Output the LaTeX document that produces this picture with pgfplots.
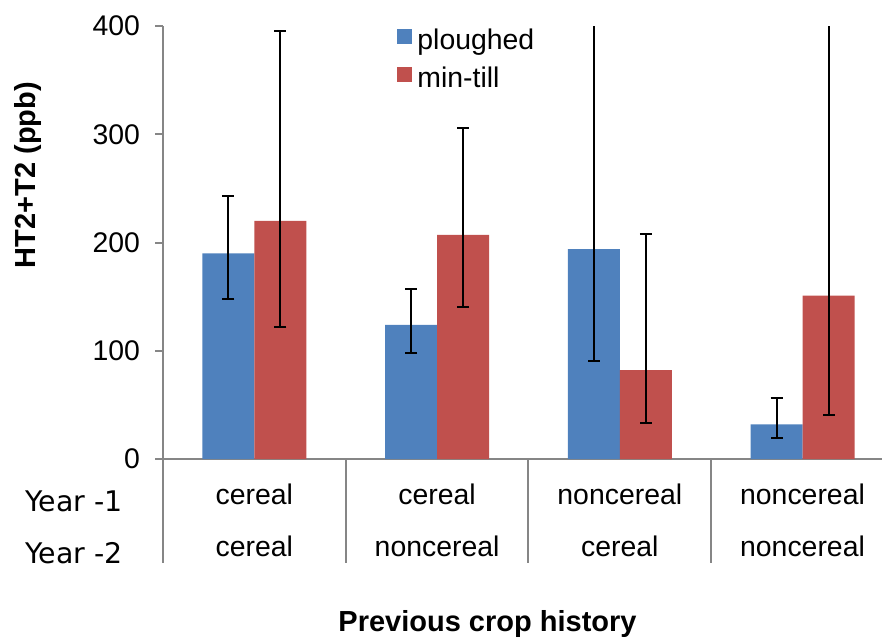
\documentclass[border=0pt]{standalone}
\usepackage{pgfplots}
\pgfplotsset{compat=1.18}
\usepackage{pgfplotstable}
\usepackage{fontspec}
\setmainfont{Liberation Sans}
\newfontfamily\yearfont{DejaVu Sans}
\definecolor{barblue}{HTML}{4F81BD}
\definecolor{barred}{HTML}{C0504D}
\definecolor{axgray}{HTML}{868686}

\pgfplotstableread{
x y ep em
0 190 53 42
1 124 33 26
2 194 256 103
3 32 24 13
}\ploughed
\pgfplotstableread{
x y ep em
0 220 175 98
1 207 99 67
2 82 126 49
3 151 299 110
}\mintill

\begin{document}
\begin{tikzpicture}
\path[use as bounding box] (0,0) rectangle (441pt,319.5pt);
\begin{axis}[
  at={(81.5pt,90pt)}, anchor=south west,
  scale only axis, width=359.5pt, height=216.5pt,
  xmin=-0.5, xmax=3.435, ymin=0, ymax=400,
  ybar=0pt, bar width=26pt,
  axis x line*=bottom, axis y line*=left,
  axis line style={axgray, line width=1pt},
  ytick={0,100,200,300,400},
  yticklabels={\textup{0},\textup{100},\textup{200},\textup{300},\textup{400}},
  tick align=outside,
  major tick length=4pt,
  ytick style={axgray, line width=1pt},
  xtick={0,1,2,3},
  xticklabels={cereal,cereal,noncereal,noncereal},
  xtick style={draw=none},
  extra x ticks={0,1,2,3},
  extra x tick labels={cereal,noncereal,cereal,noncereal},
  extra x tick style={xticklabel style={yshift=-26pt}},
  xticklabel style={anchor=base, yshift=-18.5pt},
  yticklabel style={anchor=east, xshift=-4pt},
  /pgf/number format/assume math mode=true,
  tick label style={font=\fontsize{14.2}{16}\selectfont},
  ylabel={HT2+T2 (ppb)},
  ylabel style={at={(axis description cs:-0.178,0.656)}, anchor=base, font=\bfseries\fontsize{14.5}{16}\selectfont},
  xlabel={Previous crop history},
  xlabel style={at={(axis description cs:0.4513,-0.398)}, anchor=base, font=\bfseries\fontsize{14.5}{16}\selectfont},
  legend cell align=left,
  legend style={draw=none, fill=none, inner sep=0pt, at={(axis description cs:0.3255,0.997)}, anchor=north west,
    font=\fontsize{14.2}{16}\selectfont, row sep=4pt, column sep=1.5pt,
    nodes={inner sep=1pt, text height=10pt, text depth=3pt}},
  after end axis/.code={
    \draw[axgray, line width=1pt] (axis cs:-0.5,0) -- ++(0,-52pt);
    \draw[axgray, line width=1pt] (axis cs:0.5,0) -- ++(0,-52pt);
    \draw[axgray, line width=1pt] (axis cs:1.5,0) -- ++(0,-52pt);
    \draw[axgray, line width=1pt] (axis cs:2.5,0) -- ++(0,-52pt);
    \node[anchor=base east, inner sep=0pt, font=\yearfont\fontsize{14.2}{16}\selectfont] at (axis description cs:-0.0556,-0.1201) {Year -1};
    \node[anchor=base east, inner sep=0pt, font=\yearfont\fontsize{14.2}{16}\selectfont] at (axis description cs:-0.0556,-0.2402) {Year -2};
  },
]
\addplot[fill=barblue, draw=none,
  legend image code/.code={\fill[barblue] (0pt,-0.75pt) rectangle (7.5pt,6.75pt);},
  error bars/.cd, y dir=both, y explicit,
  error bar style={black, line width=1pt},
  error mark options={black, line width=1pt, mark size=3pt, rotate=90}]
  table[x=x, y=y, y error plus=ep, y error minus=em] {\ploughed};
\addlegendentry{ploughed}
\addplot[fill=barred, draw=none,
  legend image code/.code={\fill[barred] (0pt,-0.75pt) rectangle (7.5pt,6.75pt);},
  error bars/.cd, y dir=both, y explicit,
  error bar style={black, line width=1pt},
  error mark options={black, line width=1pt, mark size=3pt, rotate=90}]
  table[x=x, y=y, y error plus=ep, y error minus=em] {\mintill};
\addlegendentry{min-till}
\end{axis}
\end{tikzpicture}
\end{document}
